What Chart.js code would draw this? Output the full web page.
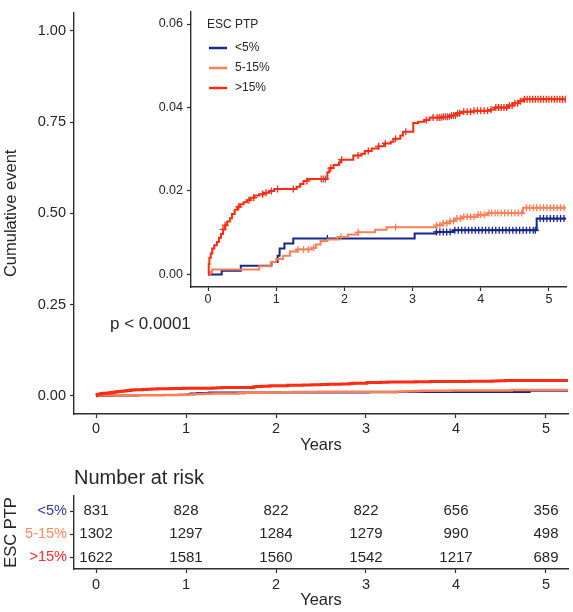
<!DOCTYPE html>
<html><head><meta charset="utf-8">
<script src="https://cdn.jsdelivr.net/npm/chart.js@4.4.1/dist/chart.umd.min.js"></script>
<style>
html,body{margin:0;padding:0;background:#fff;}
#wrap{position:relative;width:573px;height:612px;overflow:hidden;background:#fff;}
canvas{position:absolute;display:block;}
</style></head><body>
<div id="wrap">
<canvas id="main" width="573" height="460" style="left:0;top:0"></canvas>
<canvas id="risk" width="573" height="152" style="left:0;top:460px"></canvas>
<canvas id="inset" width="423" height="310" style="left:150px;top:0"></canvas>
</div>
<script>
// ---------- data ----------
const groups = ['<5%', '5-15%', '>15%'];
const xTicks = [0, 1, 2, 3, 4, 5];
const mainYTicks = [0, 0.25, 0.5, 0.75, 1.0];
const insetYTicks = [0, 0.02, 0.04, 0.06];

// cumulative event step curves (time in years, cumulative incidence)
const lowT  = [0, 0.20, 0.48, 0.93, 1.02, 1.05, 1.12, 1.25, 3.03, 3.35, 3.60, 4.82, 5.25];
const lowV  = [0, 0.0009, 0.0021, 0.0030, 0.0045, 0.0062, 0.0074, 0.0086, 0.0098, 0.0102, 0.0106, 0.0134, 0.0134];

const midT  = [0, 0.03, 0.06, 0.75, 0.92, 1.00, 1.10, 1.20, 1.30, 1.52, 1.58, 1.65, 1.75, 1.90, 2.05, 2.20, 2.45, 2.62, 3.35, 3.45, 3.55, 3.62, 3.72, 3.95, 4.10, 4.62, 5.25];
const midV  = [0, 0.0006, 0.0012, 0.0020, 0.0030, 0.0037, 0.0045, 0.0055, 0.0060, 0.0064, 0.0072, 0.0080, 0.0084, 0.0090, 0.0096, 0.0101, 0.0107, 0.0113, 0.0118, 0.0123, 0.0128, 0.0134, 0.0138, 0.0143, 0.0147, 0.0160, 0.0160];

const highT = [0, 0.01, 0.02, 0.04, 0.06, 0.09, 0.13, 0.16, 0.19, 0.22, 0.25, 0.28, 0.32, 0.35, 0.39, 0.43, 0.47, 0.52, 0.57, 0.62, 0.68, 0.75, 0.82, 0.90, 0.97, 1.30, 1.35, 1.40, 1.46, 1.75, 1.78, 1.84, 1.92, 1.94, 2.13, 2.25, 2.30, 2.40, 2.50, 2.58, 2.68, 2.72, 2.82, 2.86, 3.01, 3.08, 3.17, 3.25, 3.45, 3.55, 3.65, 3.72, 3.90, 4.15, 4.20, 4.40, 4.47, 4.55, 4.62, 5.25];
const highV = [0, 0.0025, 0.0040, 0.0050, 0.0062, 0.0070, 0.0078, 0.0088, 0.0097, 0.0108, 0.0118, 0.0127, 0.0135, 0.0145, 0.0155, 0.0162, 0.0168, 0.0173, 0.0178, 0.0184, 0.0189, 0.0192, 0.0196, 0.0200, 0.0205, 0.0210, 0.0217, 0.0224, 0.0229, 0.0245, 0.0255, 0.0262, 0.0268, 0.0275, 0.0285, 0.0289, 0.0296, 0.0302, 0.0307, 0.0314, 0.0318, 0.0325, 0.0333, 0.0342, 0.0363, 0.0366, 0.0370, 0.0376, 0.0378, 0.0381, 0.0386, 0.0390, 0.0392, 0.0395, 0.0400, 0.0405, 0.0410, 0.0415, 0.0420, 0.0420];

// censoring times (years)
const lowCens  = [1.75, 3.35, 3.40, 3.45, 3.50, 3.55, 3.62, 3.67, 3.72, 3.77, 3.82, 3.87, 3.92, 3.97, 4.02, 4.07, 4.12, 4.17, 4.22, 4.27, 4.32, 4.37, 4.42, 4.47, 4.52, 4.57, 4.62, 4.67, 4.72, 4.77, 4.80, 4.87, 4.92, 4.97, 5.02, 5.07, 5.12, 5.17, 5.22];
const midCens  = [1.32, 1.40, 1.47, 1.55, 1.95, 2.20, 2.75, 3.35, 3.40, 3.45, 3.50, 3.55, 3.60, 3.65, 3.70, 3.75, 3.80, 3.85, 3.90, 3.96, 4.00, 4.05, 4.12, 4.16, 4.21, 4.25, 4.30, 4.35, 4.40, 4.45, 4.50, 4.55, 4.60, 4.67, 4.72, 4.77, 4.82, 4.87, 4.92, 4.97, 5.02, 5.07, 5.12, 5.17, 5.22];
const highCens = [0.22, 0.25, 0.45, 0.60, 0.67, 0.80, 0.85, 0.93, 1.02, 1.25, 1.45, 1.66, 1.69, 1.72, 1.80, 1.96, 2.20, 2.35, 2.50, 2.60, 2.75, 2.90, 3.20, 3.30, 3.36, 3.39, 3.42, 3.45, 3.48, 3.51, 3.54, 3.57, 3.60, 3.63, 3.66, 3.69, 3.75, 3.80, 3.85, 3.90, 3.95, 4.00, 4.05, 4.10, 4.15, 4.22, 4.26, 4.30, 4.34, 4.38, 4.42, 4.46, 4.50, 4.54, 4.58, 4.64, 4.68, 4.72, 4.76, 4.80, 4.84, 4.88, 4.92, 4.96, 5.00, 5.04, 5.08, 5.12, 5.16, 5.20, 5.24];

// number at risk
const riskTimes = [0, 1, 2, 3, 4, 5];
const riskLow  = [831, 828, 822, 822, 656, 356];
const riskMid  = [1302, 1297, 1284, 1279, 990, 498];
const riskHigh = [1622, 1581, 1560, 1542, 1217, 689];

const pText = 'p < 0.0001';

// ---------- style ----------
const FONT = "'Liberation Sans', Arial, Helvetica, sans-serif";
const TXT = '#262626';
const AX = '#2e2e2e';
const BLUE = '#16268c';
const ORANGE = '#ff7f56';
const RED = '#ff2b12';
const LABEL_COLORS = ['#3337b0', '#ff8a66', '#ff2e2e'];

function stepPoints(T, V) { return T.map((t, i) => ({x: t, y: V[i]})); }
function valueAt(T, V, t) { let v = V[0]; for (let i = 0; i < T.length; i++) { if (T[i] <= t) v = V[i]; } return v; }
function censorPoints(T, V, C) { return C.map(t => ({x: t, y: valueAt(T, V, t)})); }
function setTicks(list) { return s => { s.ticks = list.map(v => ({value: v})); }; }

function xAxis(height, tickSize, titleText, titleSize, titlePadBottom, tickPad) {
  const o = {
    type: 'linear', min: -0.245, max: 5.245,
    afterBuildTicks: setTicks(xTicks),
    afterFit: s => { s.height = height; },
    grid: {display: true, drawOnChartArea: false, drawTicks: true, tickLength: 4, tickColor: AX, tickWidth: 1.2},
    border: {display: true, color: AX, width: 1.4},
    ticks: {color: TXT, font: {family: FONT, size: tickSize}, padding: tickPad, maxRotation: 0, callback: v => String(v)}
  };
  if (titleText) o.title = {display: true, text: titleText, color: TXT, font: {family: FONT, size: titleSize}, padding: {top: 0, bottom: titlePadBottom}};
  return o;
}

const base = {responsive: false, animation: false, events: [], plugins: {legend: {display: false}, tooltip: {enabled: false}}};

// ---------- main chart ----------
const pPlugin = {
  id: 'ptext',
  afterDraw(chart) {
    const {ctx, scales} = chart;
    ctx.save();
    ctx.font = '17px ' + FONT;
    ctx.fillStyle = TXT;
    ctx.textAlign = 'left';
    ctx.textBaseline = 'middle';
    ctx.fillText(pText, scales.x.getPixelForValue(0.155), scales.y.getPixelForValue(0.196));
    ctx.restore();
  }
};

const lineDs = (label, T, V, color, w, order) => ({label, data: stepPoints(T, V), borderColor: color, backgroundColor: color, borderWidth: w, showLine: true, stepped: true, pointRadius: 0, fill: false, order});

new Chart(document.getElementById('main'), {
  type: 'scatter',
  data: {datasets: [
    lineDs(groups[2], highT, highV, RED, 3, 1),
    lineDs(groups[1], midT, midV, ORANGE, 2.5, 2),
    lineDs(groups[0], lowT, lowV, BLUE, 2, 3)
  ]},
  options: Object.assign({}, base, {
    layout: {padding: {left: 0, right: 5, top: 4, bottom: 0}},
    scales: {
      x: xAxis(46, 14.5, 'Years', 16.5, 5, 2),
      y: {
        type: 'linear', min: -0.05, max: 1.05,
        afterBuildTicks: setTicks(mainYTicks),
        afterFit: s => { s.width = 74; },
        grid: {display: true, drawOnChartArea: false, drawTicks: true, tickLength: 4, tickColor: AX, tickWidth: 1.2},
        border: {display: true, color: AX, width: 1.4},
        ticks: {color: TXT, font: {family: FONT, size: 14.5}, padding: 4, callback: v => Number(v).toFixed(2)},
        title: {display: true, text: 'Cumulative event', color: TXT, font: {family: FONT, size: 16.5}, padding: {top: 1.5, bottom: 0}}
      }
    }
  }),
  plugins: [pPlugin]
});

// ---------- inset chart ----------
const legendPlugin = {
  id: 'insetLegend',
  afterDraw(chart) {
    const {ctx} = chart;
    ctx.save();
    ctx.font = '12px ' + FONT;
    ctx.fillStyle = TXT;
    ctx.textAlign = 'left';
    ctx.textBaseline = 'middle';
    ctx.fillText('ESC PTP', 57, 25);
    const cols = [BLUE, ORANGE, RED];
    const ys = [48, 68, 88];
    for (let i = 0; i < 3; i++) {
      ctx.strokeStyle = cols[i];
      ctx.lineWidth = 2.5;
      ctx.beginPath(); ctx.moveTo(59, ys[i]); ctx.lineTo(77, ys[i]); ctx.stroke();
      ctx.fillStyle = TXT;
      ctx.fillText(groups[i], 85, ys[i]);
    }
    ctx.restore();
  }
};

const censDs = (T, V, C, color, order) => ({data: censorPoints(T, V, C), borderColor: color, backgroundColor: color, pointStyle: 'cross', pointRadius: 3.5, borderWidth: 1.3, showLine: false, order});

new Chart(document.getElementById('inset'), {
  type: 'scatter',
  data: {datasets: [
    lineDs(groups[2], highT, highV, RED, 2, 1),
    censDs(highT, highV, highCens, RED, 1),
    lineDs(groups[1], midT, midV, ORANGE, 2, 2),
    censDs(midT, midV, midCens, ORANGE, 2),
    lineDs(groups[0], lowT, lowV, BLUE, 2, 3),
    censDs(lowT, lowV, lowCens, BLUE, 3)
  ]},
  options: Object.assign({}, base, {
    layout: {padding: {left: 0, right: 7, top: 5, bottom: 0}},
    scales: {
      x: {
        type: 'linear', min: -0.25, max: 5.25,
        afterBuildTicks: setTicks(xTicks),
        afterFit: s => { s.height = 23; },
        grid: {display: true, drawOnChartArea: false, drawTicks: true, tickLength: 4, tickColor: AX, tickWidth: 1.2},
        border: {display: true, color: AX, width: 1.4},
        ticks: {color: TXT, font: {family: FONT, size: 12.5}, padding: 1, maxRotation: 0, callback: v => String(v)}
      },
      y: {
        type: 'linear', min: -0.003, max: 0.063,
        afterBuildTicks: setTicks(insetYTicks),
        afterFit: s => { s.width = 41; },
        grid: {display: true, drawOnChartArea: false, drawTicks: true, tickLength: 4, tickColor: AX, tickWidth: 1.2},
        border: {display: true, color: AX, width: 1.4},
        ticks: {color: TXT, font: {family: FONT, size: 12.5}, padding: 4, callback: v => Number(v).toFixed(2)}
      }
    }
  }),
  plugins: [legendPlugin]
});

// ---------- risk table ----------
const riskPlugin = {
  id: 'riskText',
  afterDatasetsDraw(chart) {
    const {ctx} = chart;
    ctx.save();
    ctx.font = '15px ' + FONT;
    ctx.fillStyle = TXT;
    ctx.textAlign = 'center';
    ctx.textBaseline = 'middle';
    chart.data.datasets.forEach((ds, di) => {
      const meta = chart.getDatasetMeta(di);
      meta.data.forEach((pt, i) => { ctx.fillText(String(ds.counts[i]), pt.x, pt.y); });
    });
    ctx.restore();
  }
};

const rowDs = (row, counts) => ({data: riskTimes.map(t => ({x: t, y: row})), counts, pointRadius: 0, showLine: false});

new Chart(document.getElementById('risk'), {
  type: 'scatter',
  data: {datasets: [rowDs(3, riskLow), rowDs(2, riskMid), rowDs(1, riskHigh)]},
  options: Object.assign({}, base, {
    layout: {padding: {left: 0, right: 5, top: 0, bottom: 0}},
    plugins: {
      legend: {display: false}, tooltip: {enabled: false},
      title: {display: true, text: 'Number at risk', align: 'start', fullSize: false, color: TXT, font: {family: FONT, size: 20, weight: 'normal'}, padding: {top: 6, bottom: 6}}
    },
    scales: {
      x: xAxis(43, 14.5, 'Years', 16.5, 2, 3),
      y: {
        type: 'linear', min: 0.5, max: 3.65,
        afterBuildTicks: setTicks([1, 2, 3]),
        afterFit: s => { s.width = 74; },
        grid: {display: true, drawOnChartArea: false, drawTicks: true, tickLength: 4, tickColor: AX, tickWidth: 1.2},
        border: {display: true, color: AX, width: 1.4},
        ticks: {font: {family: FONT, size: 14.5}, padding: 3, callback: v => groups[3 - v], color: c => LABEL_COLORS[3 - c.tick.value]},
        title: {display: true, text: 'ESC PTP', color: TXT, font: {family: FONT, size: 16.5}, padding: {top: 1.5, bottom: 0}}
      }
    }
  }),
  plugins: [riskPlugin]
});
</script>
</body></html>
